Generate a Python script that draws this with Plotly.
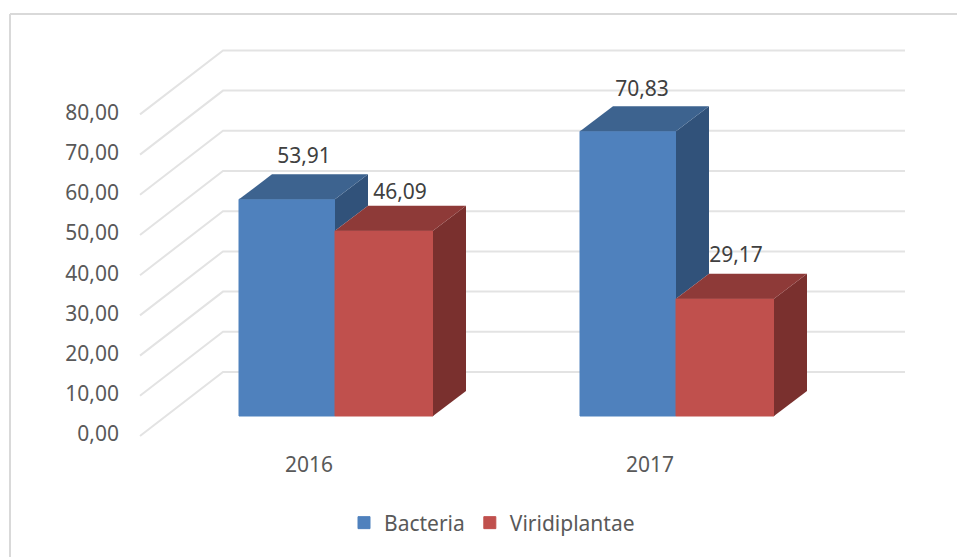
import plotly.graph_objects as go

categories = ["2016", "2017"]
bacteria = [53.91, 70.83]
viridiplantae = [46.09, 29.17]
y_ticks = [0, 10, 20, 30, 40, 50, 60, 70, 80]

# layout geometry in page pixels
W, H = 957, 557
PL, PR, PT, PB = 120, 920, 20, 450      # plot rectangle
X0_PX, X_PX = 309, 341                  # category 0 position, pixels per category
Y0_PX, Y_PX = 434, 4.02                 # value 0 position, pixels per value unit
FONT = "Noto Sans"
FS = 21


def ux(px):
    return px / X_PX


def uy(px):
    return px / Y_PX


DX, DY = ux(33), uy(25)                 # bar depth
BASE = uy(Y0_PX - 416)                  # bars' floor above the label plane

series = [
    dict(name="Bacteria", values=bacteria, off=ux(239 - 309), width=ux(96),
         front="#4F81BD", side="#31527A", top="#3D638F", lab=[(0, -1), (-3, -2)]),
    dict(name="Viridiplantae", values=viridiplantae, off=ux(335 - 309), width=ux(98),
         front="#C0504D", side="#7A302E", top="#8E3A38", lab=[(-1, -6), (-6, -1)]),
]

fig = go.Figure()

# left wall and back wall gridlines under the bars
grid = dict(color="#E3E3E3", width=2)
wall_front_x = (140 - X0_PX) / X_PX
wall_back_x = (223 - X0_PX) / X_PX
wall_end_x = (905 - X0_PX) / X_PX
wall_shift = uy(-2)
wall_rise = uy(62)
shapes = []
for t in y_ticks:
    path = (f"M {wall_front_x},{t + wall_shift} "
            f"L {wall_back_x},{t + wall_rise} L {wall_end_x},{t + wall_rise}")
    shapes.append(dict(type="path", xref="x", yref="y", path=path, line=grid, layer="below"))

# chart frame
frame = dict(color="#D9D9D9", width=2)
pw, ph = PR - PL, PB - PT


def px_x(p):
    return (p - PL) / pw


def px_y(p):
    return (PB - p) / ph


shapes.append(dict(type="line", xref="paper", yref="paper", x0=px_x(10), x1=px_x(W + 5),
                   y0=px_y(14), y1=px_y(14), line=frame, layer="below"))
shapes.append(dict(type="line", xref="paper", yref="paper", x0=px_x(10), x1=px_x(10),
                   y0=px_y(14), y1=px_y(H + 5), line=frame, layer="below"))

for s in series:
    fig.add_trace(go.Bar(
        x=list(range(len(categories))), y=s["values"], base=BASE,
        offset=s["off"], width=s["width"], name=s["name"],
        marker=dict(color=s["front"], line=dict(width=1, color=s["front"])),
        hoverinfo="skip"))

# side and top faces, back to front; a side stops where the next bar's front starts
for k, s in enumerate(series):
    neighbour = series[k + 1]["values"] if k + 1 < len(series) else None
    for i, v in enumerate(s["values"]):
        xl = i + s["off"]
        xr = xl + s["width"]
        yb = BASE + (neighbour[i] if neighbour else 0)
        yt = BASE + v
        fig.add_trace(go.Scatter(
            x=[xr, xr + DX, xr + DX, xr, xr], y=[yb, yb + DY, yt + DY, yt, yb],
            mode="lines", fill="toself", fillcolor=s["side"], line=dict(width=0),
            showlegend=False, hoverinfo="skip"))
        fig.add_trace(go.Scatter(
            x=[xl, xr, xr + DX, xl + DX, xl], y=[yt, yt, yt + DY, yt + DY, yt],
            mode="lines", fill="toself", fillcolor=s["top"], line=dict(width=0),
            showlegend=False, hoverinfo="skip"))

# data labels
for s in series:
    xs, ys, txt = [], [], []
    for i, v in enumerate(s["values"]):
        xs.append(i + s["off"] + s["width"] / 2 + ux(17 + s["lab"][i][0]))
        ys.append(BASE + v + DY + uy(18 + s["lab"][i][1]))
        txt.append(f"{v:.2f}".replace(".", ","))
    fig.add_trace(go.Scatter(
        x=xs, y=ys, text=txt, mode="text", textposition="middle center",
        textfont=dict(family=FONT, size=FS, color="#404040"),
        showlegend=False, hoverinfo="skip"))

fig.update_layout(
    width=W, height=H, autosize=False,
    margin=dict(l=PL, r=W - PR, t=PT, b=H - PB, pad=0),
    paper_bgcolor="white", plot_bgcolor="rgba(0,0,0,0)",
    separators=",.",
    barmode="overlay",
    font=dict(family=FONT, size=FS, color="#595959"),
    shapes=shapes,
    showlegend=True,
    legend=dict(orientation="h", xanchor="center", yanchor="middle",
                x=px_x(492), y=px_y(523), font=dict(family=FONT, size=FS, color="#595959"),
                bgcolor="rgba(0,0,0,0)", itemclick=False, itemdoubleclick=False),
    xaxis=dict(range=[(PL - X0_PX) / X_PX, (PR - X0_PX) / X_PX], tickmode="array",
               tickvals=list(range(len(categories))), ticktext=categories,
               showgrid=False, zeroline=False, showline=False, ticks="", ticklen=0),
    yaxis=dict(range=[(Y0_PX - PB) / Y_PX, (Y0_PX - PT) / Y_PX], tickmode="array",
               tickvals=y_ticks, tickformat=".2f",
               showgrid=False, zeroline=False, showline=False, ticks="", ticklen=0),
)

fig.write_html("out.html", config={"displayModeBar": False},
               post_script="document.body.style.margin='0';")
